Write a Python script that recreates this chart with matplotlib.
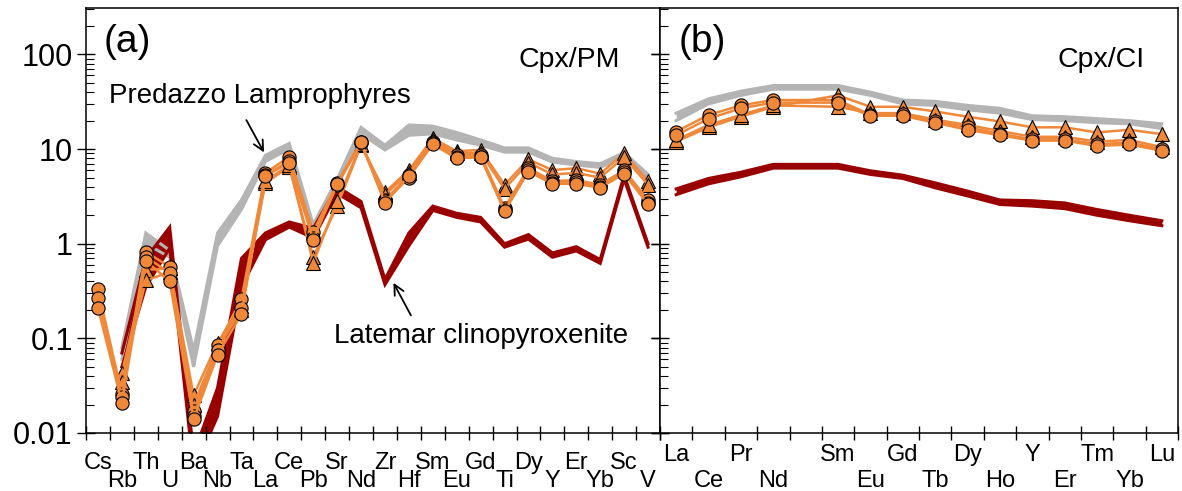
import numpy as np
import matplotlib
matplotlib.use('Agg')
import matplotlib.pyplot as plt

plt.rcParams['font.family'] = ['Liberation Sans', 'DejaVu Sans']

# ---------------------------------------------------------
# (a) trace elements normalised to primitive mantle
# ---------------------------------------------------------
pm_elems = ['Cs', 'Rb', 'Th', 'U', 'Ba', 'Nb', 'Ta', 'La', 'Ce', 'Pb', 'Sr', 'Nd',
            'Zr', 'Hf', 'Sm', 'Eu', 'Gd', 'Ti', 'Dy', 'Y', 'Er', 'Yb', 'Sc', 'V']

# Predazzo lamprophyres field (grey)
pm_gray_lo = [np.nan, 0.06, 1.0, 0.72, 0.05, 0.95, 2.3, 7.4, 10.0, 1.3, 4.0, 14.5,
              9.8, 14.0, 14.5, 12.5, 11.0, 9.3, 9.3, 7.3, 6.8, 6.4, 8.3, 4.8]
pm_gray_hi = [np.nan, 0.08, 1.3, 0.85, 0.075, 1.3, 2.9, 8.6, 11.5, 1.6, 4.8, 17.0,
              11.0, 18.0, 17.5, 15.0, 12.5, 10.3, 10.3, 8.0, 7.4, 7.0, 9.2, 5.4]

# Latemar clinopyroxenite field (dark red)
pm_red_lo = [np.nan, 0.05, 0.35, 0.9, 0.004, 0.015, 0.35, 1.1, 1.5, 1.15, 3.4, 2.4,
             0.37, 0.95, 2.25, 1.9, 1.7, 0.92, 1.12, 0.72, 0.84, 0.62, 4.8, 0.92]
pm_red_hi = [np.nan, 0.07, 0.7, 1.5, 0.006, 0.03, 0.7, 1.3, 1.7, 1.45, 4.0, 2.8,
             0.42, 1.3, 2.5, 2.1, 1.9, 1.0, 1.25, 0.8, 0.93, 0.68, 5.3, 1.0]

# cpx analyses (circles)
pm_circ = [
    [0.33, 0.026, 0.82, 0.57, 0.017, 0.085, 0.26, 5.6, 8.3, 1.34, 4.4, 12.0,
     2.9, 5.3, 12.0, 8.7, 8.7, 2.4, 6.3, 4.6, 4.7, 4.2, 6.0, 2.9],
    [0.27, 0.024, 0.73, 0.49, 0.015, 0.075, 0.21, 5.3, 7.5, 1.15, 4.2, 11.5,
     2.8, 5.0, 11.5, 8.3, 8.3, 2.3, 6.0, 4.4, 4.5, 4.0, 5.7, 2.7],
    [0.21, 0.021, 0.66, 0.40, 0.014, 0.067, 0.18, 5.2, 7.2, 1.1, 4.3, 11.8,
     2.7, 5.2, 11.2, 8.0, 8.2, 2.2, 5.8, 4.3, 4.3, 3.9, 5.5, 2.6],
]
# cpx analyses (triangles)
pm_tri = [
    [np.nan, 0.043, 0.53, 0.55, 0.025, 0.09, 0.22, 4.4, 6.5, 0.73, 2.5, 11.0,
     3.5, 6.0, 13.0, 9.5, 9.8, 4.2, 7.8, 6.0, 6.3, 5.5, 9.0, 4.6],
    [np.nan, 0.035, 0.41, 0.50, 0.02, 0.08, 0.20, 4.6, 6.8, 0.63, 2.8, 11.3,
     3.3, 5.6, 12.4, 9.0, 9.2, 3.8, 7.2, 5.4, 5.6, 5.0, 8.2, 4.2],
]

# ---------------------------------------------------------
# (b) REE normalised to CI chondrite ('' = Pm gap)
# ---------------------------------------------------------
ree_slots = ['La', 'Ce', 'Pr', 'Nd', '', 'Sm', 'Eu', 'Gd', 'Tb', 'Dy', 'Ho', 'Y',
             'Er', 'Tm', 'Yb', 'Lu']

ci_gray_lo = [20, 30, 37, 43, 43, 37, 30, 29, 26, 24, 20.5, 20, 19, 18.5, 16.5]
ci_gray_hi = [24, 34, 41, 47, 47, 40, 33, 32, 29, 27, 22.5, 22, 21, 20, 18.5]

ci_red_lo = [3.3, 4.3, 5.1, 6.3, 6.3, 5.4, 4.9, 3.9, 3.2, 2.6, 2.5, 2.35, 2.0, 1.75, 1.55]
ci_red_hi = [3.8, 4.9, 5.7, 6.9, 6.9, 5.9, 5.3, 4.4, 3.6, 2.9, 2.85, 2.7, 2.3, 2.0, 1.75]

ci_circ = [
    [15.3, 23, 29, 33, 33, 23, 23.5, 19.6, 17, 14.5, 12.7, 12.7, 11.3, 11.7, 10.0],
    [14.0, 21, 27, 31, 31, 22.5, 22.5, 19.0, 16, 14.0, 12.3, 12.3, 10.8, 11.2, 9.6],
]
ci_tri = [
    [12.0, 17, 22, 28, 37, 28, 28, 25, 22, 19.6, 17, 17, 15, 16, 14.4],
    [12.5, 18, 23, 29, 28, 24, 24, 20.5, 18, 15.5, 13.5, 13.5, 12, 12.5, 10.5],
]

GRAY = '#b4b4b4'
RED = '#990000'
ORANGE = '#f0883a'


def band(ax, x, lo, hi, color):
    ax.fill_between(x, lo, hi, color=color, lw=0)
    ax.plot(x, lo, color=color, lw=2.2, solid_joinstyle='miter')
    ax.plot(x, hi, color=color, lw=2.2, solid_joinstyle='miter')


def samples(ax, x, circ, tri):
    for s in tri:
        ax.plot(x, s, '-', color=ORANGE, lw=1.8, marker='^', ms=9.5,
                mfc=ORANGE, mec='black', mew=0.8)
    for s in circ:
        ax.plot(x, s, '-', color=ORANGE, lw=1.8, marker='o', ms=9.5,
                mfc=ORANGE, mec='black', mew=0.8)


def style_axis(ax, labels, y_up, y_low):
    n = len(labels)
    ax.set_yscale('log')
    ax.set_ylim(0.01, 310)
    ax.set_xlim(0, n)
    ax.set_xticks(np.arange(n + 1))
    ax.set_xticklabels([])
    ax.tick_params(axis='x', direction='inout', length=10, width=1)
    ax.tick_params(axis='y', which='major', direction='inout', length=13, width=1,
                   labelsize=22, pad=3)
    ax.tick_params(axis='y', which='minor', direction='in', length=5.5, width=0.8)
    k = 0
    for i, lab in enumerate(labels):
        if not lab:
            continue
        yy = y_up if k % 2 == 0 else y_low
        ax.text(i + 0.5, yy, lab, transform=ax.get_xaxis_transform(),
                ha='center', va='top', fontsize=17)
        k += 1
    for sp in ax.spines.values():
        sp.set_linewidth(1.1)


fig = plt.figure(figsize=(11.82, 4.91), dpi=100)
axa = fig.add_axes([86 / 1182, 1 - 433 / 491, 574 / 1182, 425 / 491])
axb = fig.add_axes([660 / 1182, 1 - 433 / 491, 518 / 1182, 425 / 491])

# ---- panel (a) ----
xa = np.arange(len(pm_elems)) + 0.5
band(axa, xa, pm_gray_lo, pm_gray_hi, GRAY)
band(axa, xa, pm_red_lo, pm_red_hi, RED)
samples(axa, xa, pm_circ, pm_tri)
style_axis(axa, pm_elems, -0.044, -0.087)
axa.set_yticks([0.01, 0.1, 1, 10, 100])
axa.set_yticklabels(['0.01', '0.1', '1', '10', '100'])
axa.tick_params(axis='y', which='major', right=True)

axa.text(0.03, 0.92, '(a)', transform=axa.transAxes, fontsize=28, va='center')
axa.text(0.93, 0.878, 'Cpx/PM', transform=axa.transAxes, fontsize=20.5,
         ha='right', va='center')
axa.text(7.28, 36, 'Predazzo Lamprophyres', fontsize=20, ha='center', va='center')
axa.annotate('', xy=(7.5, 8.7), xytext=(6.65, 21.5),
             arrowprops=dict(arrowstyle='->', lw=1.3, color='black', mutation_scale=18))
axa.text(16.5, 0.106, 'Latemar clinopyroxenite', fontsize=20, ha='center', va='center')
axa.annotate('', xy=(12.8, 0.41), xytext=(13.64, 0.165),
             arrowprops=dict(arrowstyle='->', lw=1.3, color='black', mutation_scale=18))

# ---- panel (b) ----
xb = np.array([i + 0.5 for i, e in enumerate(ree_slots) if e])
band(axb, xb, ci_gray_lo, ci_gray_hi, GRAY)
band(axb, xb, ci_red_lo, ci_red_hi, RED)
samples(axb, xb, ci_circ, ci_tri)
style_axis(axb, ree_slots, -0.027, -0.087)
axb.set_yticks([0.01, 0.1, 1, 10, 100])
axb.set_yticklabels([])

axb.text(0.035, 0.92, '(b)', transform=axb.transAxes, fontsize=28, va='center')
axb.text(0.936, 0.878, 'Cpx/CI', transform=axb.transAxes, fontsize=20.5,
         ha='right', va='center')

fig.savefig('out.png', dpi=100)
